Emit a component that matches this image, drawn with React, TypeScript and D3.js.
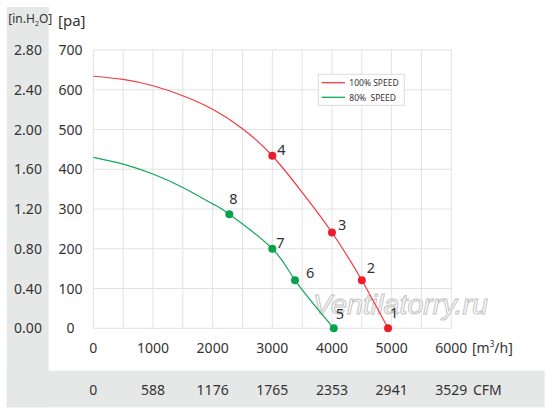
import React from 'react';
import * as d3 from 'd3';

// fan curves, airflow [m3/h] vs static pressure [pa]
const speed100Flow = [0, 500, 1000, 1500, 2000, 2500, 3000, 3500, 4000, 4500, 4940];
const speed100Pa = [634, 626, 610, 585, 551, 502, 434, 342, 241, 121, 0];
const speed80Flow = [0, 500, 1000, 1500, 2000, 2280, 3000, 3380, 4030];
const speed80Pa = [430, 413, 388, 354, 313, 287, 200, 121, 0];

// numbered operating points
const pointIds = ['1', '2', '3', '4', '5', '6', '7', '8'];
const pointFlow = [4940, 4500, 4000, 3000, 4030, 3380, 3000, 2280];
const pointPa = [0, 121, 241, 434, 0, 121, 200, 287];
const pointSeries = [0, 0, 0, 0, 1, 1, 1, 1];

const paTicks = [0, 100, 200, 300, 400, 500, 600, 700];
const inH2OTicks = ['0.00', '0.40', '0.80', '1.20', '1.60', '2.00', '2.40', '2.80'];
const flowTicks = [0, 1000, 2000, 3000, 4000, 5000, 6000];
const cfmTicks = ['0', '588', '1176', '1765', '2353', '2941', '3529'];
const seriesNames = ['100% SPEED', '80%\u00a0\u00a0SPEED'];

const COLORS = ['#f23a44', '#12a85a'];
const DOTS = ['#ec1c2c', '#07a24e'];
const FONT = '"Noto Sans", "DejaVu Sans", sans-serif';
const TXT = '#333';

// label nudges [dx, dy] relative to each dot
const labelOffset = [
  [2, -10], [5, -7], [6, -2], [5, -1],
  [2, -9], [11, -2], [4, -1], [0, -10],
];

const App = () => {
  const W = 552;
  const H = 416;
  const x = d3.scaleLinear().domain([0, 6000]).range([93.3, 451.3]);
  const y = d3.scaleLinear().domain([0, 700]).range([328.3, 50]);

  const line = d3.line<[number, number]>()
    .x(d => x(d[0]))
    .y(d => y(d[1]))
    .curve(d3.curveNatural);

  const s100 = speed100Flow.map((f, i) => [f, speed100Pa[i]] as [number, number]);
  const s80 = speed80Flow.map((f, i) => [f, speed80Pa[i]] as [number, number]);

  const vGrid = d3.range(0, 6001, 500);
  const hGrid = d3.range(0, 701, 100);

  return (
    <svg width={W} height={H} style={{ position: 'absolute', left: 0, top: 0 }} fontFamily={FONT}>
      <rect width={W} height={H} fill="#fff" />
      {/* grey frames for the imperial units */}
      <rect x={6.7} y={7} width={42} height={400.3} fill="#e6e7e7" />
      <rect x={6.7} y={370.7} width={538} height={36.6} fill="#e6e7e7" />

      {/* grid */}
      <g stroke="#e2e2e2" strokeWidth={1}>
        {vGrid.map(v => (
          <line key={'v' + v} x1={x(v)} x2={x(v)} y1={y(0)} y2={y(700)} />
        ))}
        {hGrid.map(v => (
          <line key={'h' + v} x1={x(0)} x2={x(6000)} y1={y(v)} y2={y(v)} />
        ))}
      </g>

      {/* watermark */}
      <text x={313} y={314} fontSize={28} fontStyle="italic" fill="#ffffff" fillOpacity={0.85}
        stroke="#c4c4c4" strokeWidth={1} fontFamily='"Liberation Sans", sans-serif'
        textLength={175} lengthAdjust="spacingAndGlyphs">
        Ventilatorry.ru
      </text>

      {/* curves */}
      <path d={line(s100) ?? ''} fill="none" stroke={COLORS[0]} strokeWidth={1.2} />
      <path d={line(s80) ?? ''} fill="none" stroke={COLORS[1]} strokeWidth={1.2} />

      {pointIds.map((id, i) => {
        const cx = x(pointFlow[i]);
        const cy = y(pointPa[i]);
        return (
          <g key={id}>
            <circle cx={cx} cy={cy} r={4} fill={DOTS[pointSeries[i]]} />
            <text x={cx + labelOffset[i][0]} y={cy + labelOffset[i][1]} fontSize={14.5} fill={TXT}>
              {id}
            </text>
          </g>
        );
      })}

      {/* legend */}
      <rect x={318.3} y={74.3} width={86} height={31} fill="#fff" stroke="#dcdcdc" />
      {seriesNames.map((n, i) => (
        <g key={n}>
          <line x1={321.7} x2={345} y1={82.7 + i * 14.6} y2={82.7 + i * 14.6} stroke={COLORS[i]} strokeWidth={1.3} />
          <text x={349.3} y={86 + i * 14.6} fontSize={8.5} fill={TXT}>{n}</text>
        </g>
      ))}

      {/* left axes */}
      <text x={8.3} y={23} fontSize={12} fill={TXT}>
        [in.H<tspan fontSize={7} dy={3}>2</tspan><tspan dy={-3}>O]</tspan>
      </text>
      <text x={58} y={26} fontSize={15} fill={TXT}>[pa]</text>
      {paTicks.map((v, i) => (
        <g key={v}>
          <text x={28} y={y(v) + 5} fontSize={14} textAnchor="middle" fill={TXT}>{inH2OTicks[i]}</text>
          <text x={70.5} y={y(v) + 5} fontSize={14} textAnchor="middle" fill={TXT}>{v}</text>
        </g>
      ))}

      {/* bottom axes */}
      {flowTicks.map((v, i) => (
        <g key={v}>
          <text x={x(v)} y={353.3} fontSize={14} textAnchor="middle" fill={TXT}>{v}</text>
          <text x={x(v)} y={395} fontSize={14} textAnchor="middle" fill={TXT}>{cfmTicks[i]}</text>
        </g>
      ))}
      <text x={472} y={353.3} fontSize={14} fill={TXT}>
        [m<tspan fontSize={8} dy={-6}>3</tspan><tspan dy={6}>/h]</tspan>
      </text>
      <text x={473} y={395} fontSize={14} fill={TXT}>CFM</text>
    </svg>
  );
};

export default App;
